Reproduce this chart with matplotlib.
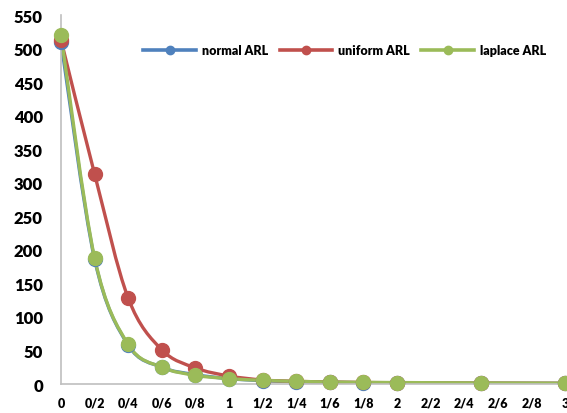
import numpy as np
import matplotlib.pyplot as plt
from matplotlib.path import Path
from matplotlib.patches import PathPatch
from matplotlib.lines import Line2D

# shift sizes and average run lengths
shift = [0, 0.2, 0.4, 0.6, 0.8, 1.0, 1.2, 1.4, 1.6, 1.8, 2.0, 2.5, 3.0]
normal_arl = [510, 186, 58, 25, 14, 8, 5, 3.5, 2.6, 2.0, 1.7, 1.2, 1.0]
uniform_arl = [513, 313, 128, 51, 24, 12, 6, 4, 3, 2.3, 1.9, 1.3, 1.0]
laplace_arl = [520, 188, 59, 25, 13, 8, 5.5, 4, 3, 2.5, 2.2, 1.6, 1.2]

xticks = [round(0.2 * i, 1) for i in range(16)]
xlabels = ['0', '0/2', '0/4', '0/6', '0/8', '1', '1/2', '1/4', '1/6', '1/8',
           '2', '2/2', '2/4', '2/6', '2/8', '3']

series = [
    ('normal ARL', normal_arl, '#4F81BD'),
    ('uniform ARL', uniform_arl, '#C0504D'),
    ('laplace ARL', laplace_arl, '#9BBB59'),
]

plt.rcParams['font.family'] = ['Lato', 'DejaVu Sans']
plt.rcParams['font.weight'] = 'heavy'


def smooth_path(x, y):
    # catmull-rom style bezier segments, like a spreadsheet "smoothed line"
    pts = np.column_stack([x, y]).astype(float)
    n = len(pts)
    verts = [pts[0]]
    codes = [Path.MOVETO]
    for i in range(n - 1):
        p0 = pts[i - 1] if i > 0 else pts[i]
        p1 = pts[i]
        p2 = pts[i + 1]
        p3 = pts[i + 2] if i + 2 < n else pts[i + 1]
        c1 = p1 + (p2 - p0) / 6
        c2 = p2 - (p3 - p1) / 6
        verts += [c1, c2, p2]
        codes += [Path.CURVE4] * 3
    return Path(verts, codes)


fig = plt.figure(figsize=(5.67, 4.14), dpi=100)
ax = fig.add_axes([0.1076, 0.070, 0.889, 0.891])

handles = []
for name, vals, col in series:
    ax.add_patch(PathPatch(smooth_path(shift, vals), facecolor='none',
                           edgecolor=col, lw=2.4, capstyle='round', zorder=2))
    ax.plot(shift, vals, ls='none', marker='o', ms=10, color=col,
            clip_on=False, zorder=3)
    handles.append(Line2D([], [], color=col, lw=2.6, marker='o', ms=6))

ax.set_xlim(0, 3)
ax.set_ylim(0, 550)
ax.set_yticks(range(0, 551, 50))
ax.set_xticks(xticks)
ax.set_xticklabels(xlabels)
ax.tick_params(axis='y', length=0, pad=13, labelsize=12)
ax.tick_params(axis='x', length=0, pad=9, labelsize=9)
for s in ['top', 'right']:
    ax.spines[s].set_visible(False)
for s in ['left', 'bottom']:
    ax.spines[s].set_color('#BFBFBF')
    ax.spines[s].set_linewidth(1.2)

ax.legend(handles, [s[0] for s in series], ncol=3, frameon=False,
          loc='center right', bbox_to_anchor=(0.985, 0.905),
          fontsize=9, handlelength=4.2, columnspacing=0.9, handletextpad=0.5)

fig.savefig('out.png', dpi=100)
